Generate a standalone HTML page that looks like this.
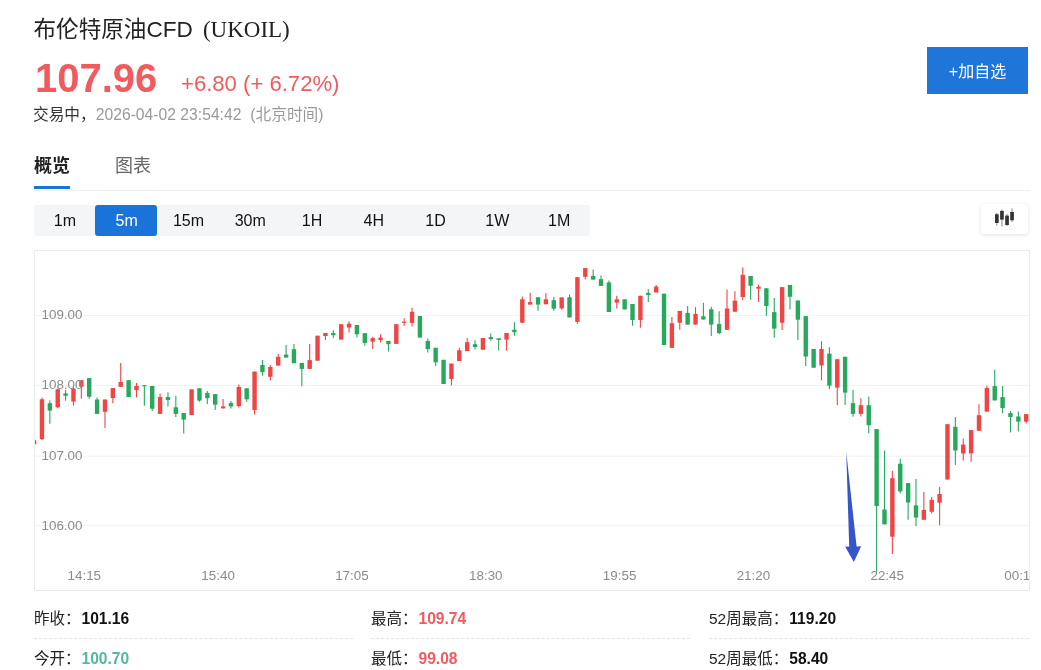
<!DOCTYPE html>
<html lang="zh-CN"><head><meta charset="utf-8"><title>布伦特原油CFD (UKOIL)</title>
<style>
*{box-sizing:border-box;margin:0;padding:0}
html,body{width:1041px;height:670px;overflow:hidden;background:#fff}
body{position:relative;font-family:"Liberation Sans","Noto Sans CJK SC",sans-serif;color:#222}
.abs{position:absolute;white-space:nowrap;line-height:1}
.title{left:33.5px;top:17.5px;font-size:22.6px;color:#222}
.title .sym{font-family:"Liberation Serif","Noto Serif CJK SC",serif;font-size:23px;margin-left:10px}
.price{left:35px;top:57.5px;font-size:40px;font-weight:bold;color:#f05b5f}
.chg{left:181px;top:73px;font-size:22.1px;color:#f05b5f}
.status{left:33px;top:107px;font-size:15.7px;color:#999}
.status b{font-weight:normal;color:#333}
.tab1{left:34px;top:157px;font-size:18px;font-weight:bold;color:#222}
.tab2{left:115px;top:157px;font-size:18px;color:#666}
.tabline{left:34px;top:186px;width:36px;height:3px;background:#1a73d9}
.hr{left:34px;top:190px;width:996px;height:1px;background:#f1f1f1}
.tf{left:34px;top:205px;width:556px;height:31px;background:#f4f5f7;border-radius:3px;display:flex}
.tf span{flex:1;text-align:center;font-size:16px;line-height:31px;color:#111}
.tf span.on{color:#fff;position:relative;z-index:1}
.tfon{left:95px;top:205px;width:61.6px;height:31px;background:#1a73d9;border-radius:3px}
.add{left:927px;top:47px;width:101px;height:47px;background:#1f76d8;color:#fff;font-size:16px;text-align:center;line-height:49px}
.ico{left:981px;top:204px;width:47px;height:30px;background:#fff;border-radius:4px;box-shadow:0 1px 4px rgba(0,0,0,.12)}
.box{left:34px;top:250px;width:996px;height:341px;border:1px solid #ebebeb}
.chart{position:absolute;left:35px;top:251px;overflow:hidden}
.ax{font-family:"Liberation Sans",sans-serif;font-size:13.4px;fill:#8b8b8b}
.st{font-size:15.5px;color:#222}
.st b{font-weight:bold;margin-left:1px;font-size:15.6px;color:#111}
.dash{height:0;border-top:1px dashed #e4e4e4}
.st b.r{color:#f05b5f} .st b.g{color:#52b8a0}
</style></head><body>
<div class="abs title">布伦特原油CFD<span class="sym">(UKOIL)</span></div>
<div class="abs price">107.96</div>
<div class="abs chg">+6.80 (+ 6.72%)</div>
<div class="abs status"><b>交易中，</b>2026-04-02 23:54:42 <span style="margin-left:4.5px">(北京时间)</span></div>
<div class="abs tab1">概览</div>
<div class="abs tab2">图表</div>
<div class="abs tabline"></div>
<div class="abs hr"></div>
<div class="abs tf"></div><div class="abs tfon"></div><div class="abs tf" style="background:none;z-index:2"><span>1m</span><span class="on">5m</span><span>15m</span><span>30m</span><span>1H</span><span>4H</span><span>1D</span><span>1W</span><span>1M</span></div>
<div class="abs add">+加自选</div>
<div class="abs ico"><svg width="47" height="30" viewBox="981 204 47 30">
<g fill="#333" stroke="#777" stroke-width="0.9">
<path d="M996.8 213V225.5"/><rect x="995" y="214.2" width="3.7" height="8.8" stroke="none"/>
<path d="M1001.9 209.5V226.5"/><rect x="1000.1" y="210.9" width="3.7" height="8.7" stroke="none"/>
<path d="M1007 214V226"/><rect x="1005.2" y="215.6" width="3.7" height="9.4" stroke="none"/>
<path d="M1012 208.5V222"/><rect x="1010.2" y="212" width="3.7" height="8.3" stroke="none"/>
</g></svg></div>
<div class="abs box"></div>
<svg class="chart" width="994" height="339" viewBox="35 251 994 339">
<line x1="35" x2="1029" y1="315.5" y2="315.5" stroke="#f2f2f2" stroke-width="1"/>
<line x1="35" x2="1029" y1="385.5" y2="385.5" stroke="#f2f2f2" stroke-width="1"/>
<line x1="35" x2="1029" y1="456.2" y2="456.2" stroke="#f2f2f2" stroke-width="1"/>
<line x1="35" x2="1029" y1="525.6" y2="525.6" stroke="#f2f2f2" stroke-width="1"/>
<path d="M34.10 440.2V444.3" stroke="#f04545" stroke-width="1.1"/><rect x="31.90" y="440.2" width="4.4" height="4.1" fill="#f04545"/>
<path d="M41.97 397.5V440.0" stroke="#f04545" stroke-width="1.1"/><rect x="39.77" y="399.3" width="4.4" height="39.9" fill="#f04545"/>
<path d="M49.85 400.4V423.8" stroke="#27a85c" stroke-width="1.1"/><rect x="47.65" y="403.2" width="4.4" height="7.4" fill="#27a85c"/>
<path d="M57.72 388.5V408.2" stroke="#f04545" stroke-width="1.1"/><rect x="55.52" y="389.3" width="4.4" height="18.0" fill="#f04545"/>
<path d="M65.60 390.1V400.8" stroke="#27a85c" stroke-width="1.1"/><rect x="63.40" y="393.4" width="4.4" height="2.4" fill="#27a85c"/>
<path d="M73.47 386.8V405.7" stroke="#f04545" stroke-width="1.1"/><rect x="71.27" y="388.5" width="4.4" height="13.1" fill="#f04545"/>
<path d="M81.34 380.2V398.8" stroke="#f04545" stroke-width="1.1"/><rect x="79.14" y="380.2" width="4.4" height="6.6" fill="#f04545"/>
<path d="M89.22 378.1V398.8" stroke="#27a85c" stroke-width="1.1"/><rect x="87.02" y="378.1" width="4.4" height="18.6" fill="#27a85c"/>
<path d="M97.09 397.5V413.9" stroke="#27a85c" stroke-width="1.1"/><rect x="94.89" y="399.5" width="4.4" height="14.4" fill="#27a85c"/>
<path d="M104.97 399.5V427.9" stroke="#f04545" stroke-width="1.1"/><rect x="102.77" y="399.5" width="4.4" height="12.3" fill="#f04545"/>
<path d="M112.84 388.1V403.2" stroke="#f04545" stroke-width="1.1"/><rect x="110.64" y="388.1" width="4.4" height="9.9" fill="#f04545"/>
<path d="M120.71 363.0V386.8" stroke="#f04545" stroke-width="1.1"/><rect x="118.51" y="381.9" width="4.4" height="4.9" fill="#f04545"/>
<path d="M128.59 380.2V397.0" stroke="#27a85c" stroke-width="1.1"/><rect x="126.39" y="380.2" width="4.4" height="16.8" fill="#27a85c"/>
<path d="M136.46 383.0V397.5" stroke="#f04545" stroke-width="1.1"/><rect x="134.26" y="386.0" width="4.4" height="4.1" fill="#f04545"/>
<path d="M144.34 385.2V405.7" stroke="#27a85c" stroke-width="1.1"/><rect x="142.14" y="385.2" width="4.4" height="1.1" fill="#27a85c"/>
<path d="M152.21 386.0V411.0" stroke="#27a85c" stroke-width="1.1"/><rect x="150.01" y="386.0" width="4.4" height="22.7" fill="#27a85c"/>
<path d="M160.08 393.4V413.9" stroke="#f04545" stroke-width="1.1"/><rect x="157.88" y="397.0" width="4.4" height="16.9" fill="#f04545"/>
<path d="M167.96 392.2V406.5" stroke="#27a85c" stroke-width="1.1"/><rect x="165.76" y="397.0" width="4.4" height="3.0" fill="#27a85c"/>
<path d="M175.83 395.8V416.9" stroke="#27a85c" stroke-width="1.1"/><rect x="173.63" y="407.3" width="4.4" height="6.6" fill="#27a85c"/>
<path d="M183.71 413.0V433.5" stroke="#27a85c" stroke-width="1.1"/><rect x="181.51" y="413.0" width="4.4" height="6.6" fill="#27a85c"/>
<path d="M191.58 389.4V415.1" stroke="#f04545" stroke-width="1.1"/><rect x="189.38" y="389.4" width="4.4" height="25.7" fill="#f04545"/>
<path d="M199.45 388.3V401.8" stroke="#27a85c" stroke-width="1.1"/><rect x="197.25" y="388.3" width="4.4" height="12.3" fill="#27a85c"/>
<path d="M207.33 391.1V403.9" stroke="#27a85c" stroke-width="1.1"/><rect x="205.13" y="392.9" width="4.4" height="5.3" fill="#27a85c"/>
<path d="M215.20 394.1V410.0" stroke="#27a85c" stroke-width="1.1"/><rect x="213.00" y="394.1" width="4.4" height="10.6" fill="#27a85c"/>
<path d="M223.08 399.0V408.4" stroke="#f04545" stroke-width="1.1"/><rect x="220.88" y="406.4" width="4.4" height="2.0" fill="#f04545"/>
<path d="M230.95 401.0V408.5" stroke="#27a85c" stroke-width="1.1"/><rect x="228.75" y="403.1" width="4.4" height="3.3" fill="#27a85c"/>
<path d="M238.82 384.5V407.5" stroke="#f04545" stroke-width="1.1"/><rect x="236.62" y="387.0" width="4.4" height="19.1" fill="#f04545"/>
<path d="M246.70 388.3V401.8" stroke="#27a85c" stroke-width="1.1"/><rect x="244.50" y="388.3" width="4.4" height="11.0" fill="#27a85c"/>
<path d="M254.57 371.6V414.6" stroke="#f04545" stroke-width="1.1"/><rect x="252.37" y="371.6" width="4.4" height="38.4" fill="#f04545"/>
<path d="M262.45 359.9V375.7" stroke="#27a85c" stroke-width="1.1"/><rect x="260.25" y="365.0" width="4.4" height="7.2" fill="#27a85c"/>
<path d="M270.32 365.0V380.6" stroke="#f04545" stroke-width="1.1"/><rect x="268.12" y="367.0" width="4.4" height="9.8" fill="#f04545"/>
<path d="M278.19 354.1V365.6" stroke="#f04545" stroke-width="1.1"/><rect x="275.99" y="356.8" width="4.4" height="8.8" fill="#f04545"/>
<path d="M286.07 345.1V357.6" stroke="#27a85c" stroke-width="1.1"/><rect x="283.87" y="354.6" width="4.4" height="3.0" fill="#27a85c"/>
<path d="M293.94 344.0V363.2" stroke="#27a85c" stroke-width="1.1"/><rect x="291.74" y="349.2" width="4.4" height="14.0" fill="#27a85c"/>
<path d="M301.82 362.9V386.2" stroke="#27a85c" stroke-width="1.1"/><rect x="299.62" y="362.9" width="4.4" height="6.0" fill="#27a85c"/>
<path d="M309.69 344.0V368.9" stroke="#f04545" stroke-width="1.1"/><rect x="307.49" y="360.1" width="4.4" height="8.8" fill="#f04545"/>
<path d="M317.56 335.7V360.7" stroke="#f04545" stroke-width="1.1"/><rect x="315.36" y="335.7" width="4.4" height="25.0" fill="#f04545"/>
<path d="M325.44 333.0V340.1" stroke="#f04545" stroke-width="1.1"/><rect x="323.24" y="333.0" width="4.4" height="3.0" fill="#f04545"/>
<path d="M333.31 330.2V338.0" stroke="#27a85c" stroke-width="1.1"/><rect x="331.11" y="333.0" width="4.4" height="2.2" fill="#27a85c"/>
<path d="M341.19 324.2V339.6" stroke="#f04545" stroke-width="1.1"/><rect x="338.99" y="324.2" width="4.4" height="15.4" fill="#f04545"/>
<path d="M349.06 321.2V332.4" stroke="#f04545" stroke-width="1.1"/><rect x="346.86" y="323.7" width="4.4" height="3.8" fill="#f04545"/>
<path d="M356.93 325.0V337.6" stroke="#27a85c" stroke-width="1.1"/><rect x="354.73" y="325.0" width="4.4" height="9.3" fill="#27a85c"/>
<path d="M364.81 333.2V345.8" stroke="#27a85c" stroke-width="1.1"/><rect x="362.61" y="333.2" width="4.4" height="9.7" fill="#27a85c"/>
<path d="M372.68 336.8V349.1" stroke="#f04545" stroke-width="1.1"/><rect x="370.48" y="338.1" width="4.4" height="3.6" fill="#f04545"/>
<path d="M380.56 334.3V342.6" stroke="#f04545" stroke-width="1.1"/><rect x="378.36" y="337.6" width="4.4" height="2.5" fill="#f04545"/>
<path d="M388.43 340.9V351.6" stroke="#27a85c" stroke-width="1.1"/><rect x="386.23" y="340.9" width="4.4" height="3.3" fill="#27a85c"/>
<path d="M396.30 324.2V343.9" stroke="#f04545" stroke-width="1.1"/><rect x="394.10" y="324.2" width="4.4" height="19.7" fill="#f04545"/>
<path d="M404.18 318.3V325.8" stroke="#f04545" stroke-width="1.1"/><rect x="401.98" y="321.7" width="4.4" height="1.2" fill="#f04545"/>
<path d="M412.05 307.7V326.5" stroke="#f04545" stroke-width="1.1"/><rect x="409.85" y="311.8" width="4.4" height="11.1" fill="#f04545"/>
<path d="M419.93 316.0V337.6" stroke="#27a85c" stroke-width="1.1"/><rect x="417.73" y="316.0" width="4.4" height="21.6" fill="#27a85c"/>
<path d="M427.80 338.5V352.4" stroke="#27a85c" stroke-width="1.1"/><rect x="425.60" y="340.9" width="4.4" height="8.2" fill="#27a85c"/>
<path d="M435.67 347.8V365.9" stroke="#27a85c" stroke-width="1.1"/><rect x="433.47" y="347.8" width="4.4" height="14.5" fill="#27a85c"/>
<path d="M443.55 359.8V384.0" stroke="#27a85c" stroke-width="1.1"/><rect x="441.35" y="359.8" width="4.4" height="24.2" fill="#27a85c"/>
<path d="M451.42 363.6V385.6" stroke="#f04545" stroke-width="1.1"/><rect x="449.22" y="363.6" width="4.4" height="15.4" fill="#f04545"/>
<path d="M459.30 347.8V361.0" stroke="#f04545" stroke-width="1.1"/><rect x="457.10" y="350.3" width="4.4" height="10.7" fill="#f04545"/>
<path d="M467.17 338.1V351.1" stroke="#f04545" stroke-width="1.1"/><rect x="464.97" y="342.2" width="4.4" height="8.9" fill="#f04545"/>
<path d="M475.04 340.3V349.5" stroke="#27a85c" stroke-width="1.1"/><rect x="472.84" y="344.2" width="4.4" height="2.8" fill="#27a85c"/>
<path d="M482.92 338.0V349.7" stroke="#f04545" stroke-width="1.1"/><rect x="480.72" y="338.0" width="4.4" height="11.7" fill="#f04545"/>
<path d="M490.79 333.5V340.7" stroke="#27a85c" stroke-width="1.1"/><rect x="488.59" y="337.1" width="4.4" height="2.0" fill="#27a85c"/>
<path d="M498.67 338.3V350.6" stroke="#27a85c" stroke-width="1.1"/><rect x="496.47" y="338.3" width="4.4" height="1.6" fill="#27a85c"/>
<path d="M506.54 333.0V350.6" stroke="#f04545" stroke-width="1.1"/><rect x="504.34" y="333.0" width="4.4" height="6.6" fill="#f04545"/>
<path d="M514.41 322.3V335.8" stroke="#27a85c" stroke-width="1.1"/><rect x="512.21" y="329.7" width="4.4" height="2.5" fill="#27a85c"/>
<path d="M522.29 296.6V322.7" stroke="#f04545" stroke-width="1.1"/><rect x="520.09" y="299.3" width="4.4" height="23.4" fill="#f04545"/>
<path d="M530.16 292.8V304.6" stroke="#f04545" stroke-width="1.1"/><rect x="527.96" y="302.1" width="4.4" height="2.5" fill="#f04545"/>
<path d="M538.04 297.2V310.8" stroke="#27a85c" stroke-width="1.1"/><rect x="535.84" y="297.2" width="4.4" height="7.4" fill="#27a85c"/>
<path d="M545.91 293.1V304.3" stroke="#f04545" stroke-width="1.1"/><rect x="543.71" y="299.3" width="4.4" height="5.0" fill="#f04545"/>
<path d="M553.78 296.9V310.8" stroke="#27a85c" stroke-width="1.1"/><rect x="551.58" y="300.2" width="4.4" height="8.5" fill="#27a85c"/>
<path d="M561.66 297.4V309.7" stroke="#f04545" stroke-width="1.1"/><rect x="559.46" y="297.4" width="4.4" height="11.0" fill="#f04545"/>
<path d="M569.53 294.4V317.4" stroke="#27a85c" stroke-width="1.1"/><rect x="567.33" y="297.2" width="4.4" height="20.2" fill="#27a85c"/>
<path d="M577.41 277.2V323.7" stroke="#f04545" stroke-width="1.1"/><rect x="575.21" y="277.2" width="4.4" height="44.7" fill="#f04545"/>
<path d="M585.28 268.1V279.6" stroke="#f04545" stroke-width="1.1"/><rect x="583.08" y="268.1" width="4.4" height="8.7" fill="#f04545"/>
<path d="M593.15 269.5V279.6" stroke="#27a85c" stroke-width="1.1"/><rect x="590.95" y="275.9" width="4.4" height="3.7" fill="#27a85c"/>
<path d="M601.03 275.5V285.9" stroke="#27a85c" stroke-width="1.1"/><rect x="598.83" y="279.1" width="4.4" height="6.8" fill="#27a85c"/>
<path d="M608.90 280.5V312.0" stroke="#27a85c" stroke-width="1.1"/><rect x="606.70" y="282.4" width="4.4" height="29.6" fill="#27a85c"/>
<path d="M616.78 295.7V308.4" stroke="#f04545" stroke-width="1.1"/><rect x="614.58" y="299.3" width="4.4" height="3.3" fill="#f04545"/>
<path d="M624.65 299.3V309.4" stroke="#27a85c" stroke-width="1.1"/><rect x="622.45" y="299.3" width="4.4" height="10.1" fill="#27a85c"/>
<path d="M632.52 304.0V325.7" stroke="#27a85c" stroke-width="1.1"/><rect x="630.32" y="304.0" width="4.4" height="16.0" fill="#27a85c"/>
<path d="M640.40 295.8V327.7" stroke="#f04545" stroke-width="1.1"/><rect x="638.20" y="295.8" width="4.4" height="24.2" fill="#f04545"/>
<path d="M648.27 289.2V301.9" stroke="#27a85c" stroke-width="1.1"/><rect x="646.07" y="292.9" width="4.4" height="2.1" fill="#27a85c"/>
<path d="M656.15 285.0V292.5" stroke="#f04545" stroke-width="1.1"/><rect x="653.95" y="286.6" width="4.4" height="5.9" fill="#f04545"/>
<path d="M664.02 293.7V345.1" stroke="#27a85c" stroke-width="1.1"/><rect x="661.82" y="293.7" width="4.4" height="51.4" fill="#27a85c"/>
<path d="M671.89 317.0V347.9" stroke="#f04545" stroke-width="1.1"/><rect x="669.69" y="323.2" width="4.4" height="24.7" fill="#f04545"/>
<path d="M679.77 310.9V329.8" stroke="#f04545" stroke-width="1.1"/><rect x="677.57" y="310.9" width="4.4" height="11.8" fill="#f04545"/>
<path d="M687.64 306.0V324.6" stroke="#27a85c" stroke-width="1.1"/><rect x="685.44" y="312.9" width="4.4" height="11.7" fill="#27a85c"/>
<path d="M695.52 307.1V324.6" stroke="#f04545" stroke-width="1.1"/><rect x="693.32" y="313.9" width="4.4" height="10.7" fill="#f04545"/>
<path d="M703.39 302.7V319.5" stroke="#27a85c" stroke-width="1.1"/><rect x="701.19" y="316.3" width="4.4" height="3.2" fill="#27a85c"/>
<path d="M711.26 306.8V335.9" stroke="#27a85c" stroke-width="1.1"/><rect x="709.06" y="309.3" width="4.4" height="15.3" fill="#27a85c"/>
<path d="M719.14 311.2V334.0" stroke="#27a85c" stroke-width="1.1"/><rect x="716.94" y="324.1" width="4.4" height="9.0" fill="#27a85c"/>
<path d="M727.01 289.6V329.8" stroke="#f04545" stroke-width="1.1"/><rect x="724.81" y="308.5" width="4.4" height="21.3" fill="#f04545"/>
<path d="M734.89 291.2V311.7" stroke="#f04545" stroke-width="1.1"/><rect x="732.69" y="300.7" width="4.4" height="11.0" fill="#f04545"/>
<path d="M742.76 267.4V300.2" stroke="#f04545" stroke-width="1.1"/><rect x="740.56" y="274.8" width="4.4" height="22.2" fill="#f04545"/>
<path d="M750.63 275.9V299.7" stroke="#27a85c" stroke-width="1.1"/><rect x="748.43" y="275.9" width="4.4" height="9.9" fill="#27a85c"/>
<path d="M758.51 284.6V301.9" stroke="#f04545" stroke-width="1.1"/><rect x="756.31" y="286.8" width="4.4" height="1.9" fill="#f04545"/>
<path d="M766.38 288.3V315.8" stroke="#27a85c" stroke-width="1.1"/><rect x="764.18" y="288.3" width="4.4" height="17.7" fill="#27a85c"/>
<path d="M774.26 298.1V337.8" stroke="#27a85c" stroke-width="1.1"/><rect x="772.06" y="312.1" width="4.4" height="16.5" fill="#27a85c"/>
<path d="M782.13 287.1V330.1" stroke="#f04545" stroke-width="1.1"/><rect x="779.93" y="287.1" width="4.4" height="35.7" fill="#f04545"/>
<path d="M790.00 284.9V309.5" stroke="#27a85c" stroke-width="1.1"/><rect x="787.80" y="284.9" width="4.4" height="11.9" fill="#27a85c"/>
<path d="M797.88 300.5V339.9" stroke="#27a85c" stroke-width="1.1"/><rect x="795.68" y="300.5" width="4.4" height="19.2" fill="#27a85c"/>
<path d="M805.75 316.1V366.0" stroke="#27a85c" stroke-width="1.1"/><rect x="803.55" y="316.1" width="4.4" height="40.4" fill="#27a85c"/>
<path d="M813.63 349.0V367.7" stroke="#27a85c" stroke-width="1.1"/><rect x="811.43" y="349.0" width="4.4" height="18.7" fill="#27a85c"/>
<path d="M821.50 341.2V380.3" stroke="#f04545" stroke-width="1.1"/><rect x="819.30" y="349.0" width="4.4" height="16.4" fill="#f04545"/>
<path d="M829.37 347.3V389.3" stroke="#27a85c" stroke-width="1.1"/><rect x="827.17" y="353.6" width="4.4" height="32.1" fill="#27a85c"/>
<path d="M837.25 359.2V405.2" stroke="#f04545" stroke-width="1.1"/><rect x="835.05" y="359.2" width="4.4" height="28.4" fill="#f04545"/>
<path d="M845.12 356.8V404.9" stroke="#27a85c" stroke-width="1.1"/><rect x="842.92" y="356.8" width="4.4" height="35.8" fill="#27a85c"/>
<path d="M853.00 390.1V416.7" stroke="#27a85c" stroke-width="1.1"/><rect x="850.80" y="403.2" width="4.4" height="10.7" fill="#27a85c"/>
<path d="M860.87 398.3V416.4" stroke="#f04545" stroke-width="1.1"/><rect x="858.67" y="405.2" width="4.4" height="8.7" fill="#f04545"/>
<path d="M868.74 396.7V433.3" stroke="#27a85c" stroke-width="1.1"/><rect x="866.54" y="405.2" width="4.4" height="20.0" fill="#27a85c"/>
<path d="M876.62 429.1V572.0" stroke="#27a85c" stroke-width="1.1"/><rect x="874.42" y="429.1" width="4.4" height="76.9" fill="#27a85c"/>
<path d="M884.49 450.7V524.4" stroke="#27a85c" stroke-width="1.1"/><rect x="882.29" y="509.5" width="4.4" height="14.9" fill="#27a85c"/>
<path d="M892.37 470.8V554.0" stroke="#f04545" stroke-width="1.1"/><rect x="890.17" y="478.2" width="4.4" height="58.5" fill="#f04545"/>
<path d="M900.24 458.8V493.5" stroke="#27a85c" stroke-width="1.1"/><rect x="898.04" y="463.7" width="4.4" height="27.7" fill="#27a85c"/>
<path d="M908.11 483.1V519.8" stroke="#27a85c" stroke-width="1.1"/><rect x="905.91" y="483.1" width="4.4" height="19.4" fill="#27a85c"/>
<path d="M915.99 479.0V526.0" stroke="#27a85c" stroke-width="1.1"/><rect x="913.79" y="505.3" width="4.4" height="12.2" fill="#27a85c"/>
<path d="M923.86 492.0V519.8" stroke="#f04545" stroke-width="1.1"/><rect x="921.66" y="509.9" width="4.4" height="9.9" fill="#f04545"/>
<path d="M931.74 497.0V513.4" stroke="#f04545" stroke-width="1.1"/><rect x="929.54" y="499.8" width="4.4" height="12.0" fill="#f04545"/>
<path d="M939.61 487.1V525.2" stroke="#f04545" stroke-width="1.1"/><rect x="937.41" y="494.0" width="4.4" height="8.7" fill="#f04545"/>
<path d="M947.48 424.2V479.5" stroke="#f04545" stroke-width="1.1"/><rect x="945.28" y="424.2" width="4.4" height="55.3" fill="#f04545"/>
<path d="M955.36 416.9V465.0" stroke="#27a85c" stroke-width="1.1"/><rect x="953.16" y="426.8" width="4.4" height="23.7" fill="#27a85c"/>
<path d="M963.23 438.5V460.6" stroke="#f04545" stroke-width="1.1"/><rect x="961.03" y="444.6" width="4.4" height="8.9" fill="#f04545"/>
<path d="M971.11 430.1V461.7" stroke="#f04545" stroke-width="1.1"/><rect x="968.91" y="430.1" width="4.4" height="23.2" fill="#f04545"/>
<path d="M978.98 404.2V430.8" stroke="#f04545" stroke-width="1.1"/><rect x="976.78" y="415.2" width="4.4" height="15.6" fill="#f04545"/>
<path d="M986.85 385.8V411.6" stroke="#f04545" stroke-width="1.1"/><rect x="984.65" y="388.1" width="4.4" height="23.5" fill="#f04545"/>
<path d="M994.73 369.7V400.4" stroke="#27a85c" stroke-width="1.1"/><rect x="992.53" y="386.1" width="4.4" height="14.3" fill="#27a85c"/>
<path d="M1002.60 386.1V413.2" stroke="#27a85c" stroke-width="1.1"/><rect x="1000.40" y="397.1" width="4.4" height="10.9" fill="#27a85c"/>
<path d="M1010.48 411.1V432.4" stroke="#27a85c" stroke-width="1.1"/><rect x="1008.28" y="413.1" width="4.4" height="3.9" fill="#27a85c"/>
<path d="M1018.35 411.6V431.5" stroke="#27a85c" stroke-width="1.1"/><rect x="1016.15" y="416.5" width="4.4" height="5.1" fill="#27a85c"/>
<path d="M1026.22 414.1V423.4" stroke="#f04545" stroke-width="1.1"/><rect x="1024.02" y="414.1" width="4.4" height="7.6" fill="#f04545"/>
<text x="41.5" y="319.4" class="ax">109.00</text>
<text x="41.5" y="389.4" class="ax">108.00</text>
<text x="41.5" y="459.9" class="ax">107.00</text>
<text x="41.5" y="529.9" class="ax">106.00</text>
<text x="84.3" y="579.5" text-anchor="middle" class="ax">14:15</text>
<text x="218.1" y="579.5" text-anchor="middle" class="ax">15:40</text>
<text x="351.9" y="579.5" text-anchor="middle" class="ax">17:05</text>
<text x="485.8" y="579.5" text-anchor="middle" class="ax">18:30</text>
<text x="619.6" y="579.5" text-anchor="middle" class="ax">19:55</text>
<text x="753.4" y="579.5" text-anchor="middle" class="ax">21:20</text>
<text x="887.2" y="579.5" text-anchor="middle" class="ax">22:45</text>
<text x="1021.0" y="579.5" text-anchor="middle" class="ax">00:10</text>
<path d="M846.2 451.5 L856.6 546.5 L861.1 546.3 L853.9 562 L845.2 546.8 L849.2 546.6 Z" fill="#3656c8"/>
</svg>
<div class="abs st" style="left:34px;top:610.7px">昨收：<b>101.16</b></div>
<div class="abs st" style="left:371px;top:610.7px">最高：<b class="r">109.74</b></div>
<div class="abs st" style="left:709px;top:610.7px">52周最高：<b>119.20</b></div>
<div class="abs dash" style="left:34px;top:638px;width:319px"></div>
<div class="abs dash" style="left:371px;top:638px;width:319px"></div>
<div class="abs dash" style="left:709px;top:638px;width:320px"></div>
<div class="abs st" style="left:34px;top:650.5px">今开：<b class="g">100.70</b></div>
<div class="abs st" style="left:371px;top:650.5px">最低：<b class="r">99.08</b></div>
<div class="abs st" style="left:709px;top:650.5px">52周最低：<b>58.40</b></div>
</body></html>
